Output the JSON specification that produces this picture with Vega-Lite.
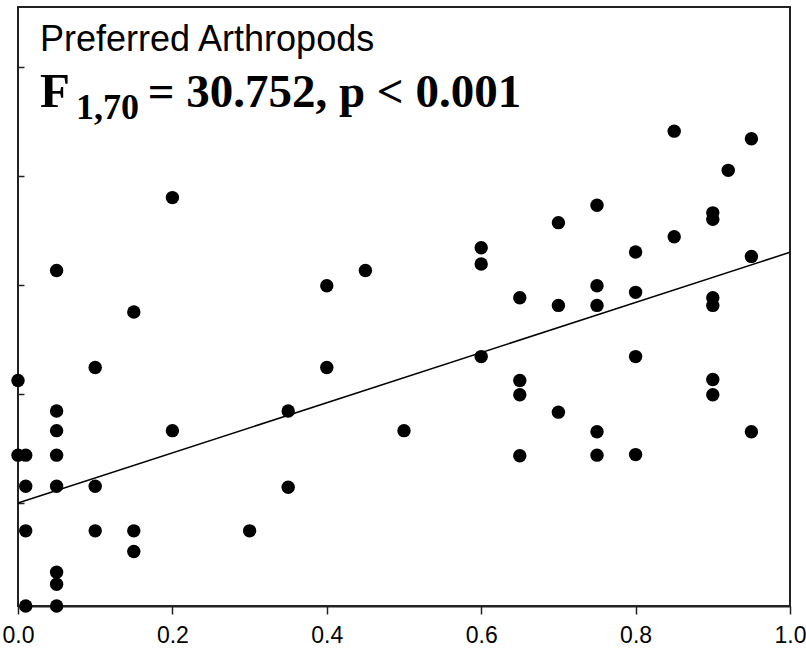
{
  "$schema": "https://vega.github.io/schema/vega-lite/v6.json",
  "autosize": {"type": "none"},
  "width": 772,
  "height": 599,
  "padding": {"left": 18, "top": 7, "right": 16, "bottom": 55},
  "background": "white",
  "config": {"view": {"stroke": "#222", "strokeWidth": 2}},
  "datasets": {
    "pts": [
      {"p": 0, "a": 2.07}, {"p": 0, "a": 1.385},
      {"p": 0.01, "a": 1.385}, {"p": 0.01, "a": 1.1}, {"p": 0.01, "a": 0.69}, {"p": 0.01, "a": 0},
      {"p": 0.05, "a": 3.08}, {"p": 0.05, "a": 1.79}, {"p": 0.05, "a": 1.61}, {"p": 0.05, "a": 1.385}, {"p": 0.05, "a": 1.1}, {"p": 0.05, "a": 0.31}, {"p": 0.05, "a": 0.2}, {"p": 0.05, "a": 0},
      {"p": 0.1, "a": 2.19}, {"p": 0.1, "a": 1.1}, {"p": 0.1, "a": 0.69},
      {"p": 0.15, "a": 2.7}, {"p": 0.15, "a": 0.69}, {"p": 0.15, "a": 0.5},
      {"p": 0.2, "a": 3.75}, {"p": 0.2, "a": 1.61},
      {"p": 0.3, "a": 0.69},
      {"p": 0.35, "a": 1.79}, {"p": 0.35, "a": 1.09},
      {"p": 0.4, "a": 2.94}, {"p": 0.4, "a": 2.19},
      {"p": 0.45, "a": 3.08},
      {"p": 0.5, "a": 1.61},
      {"p": 0.6, "a": 3.29}, {"p": 0.6, "a": 3.14}, {"p": 0.6, "a": 2.29},
      {"p": 0.65, "a": 2.83}, {"p": 0.65, "a": 2.07}, {"p": 0.65, "a": 1.94}, {"p": 0.65, "a": 1.38},
      {"p": 0.7, "a": 3.52}, {"p": 0.7, "a": 2.76}, {"p": 0.7, "a": 1.78},
      {"p": 0.75, "a": 3.68}, {"p": 0.75, "a": 2.94}, {"p": 0.75, "a": 2.76}, {"p": 0.75, "a": 1.6}, {"p": 0.75, "a": 1.385},
      {"p": 0.8, "a": 3.25}, {"p": 0.8, "a": 2.88}, {"p": 0.8, "a": 2.29}, {"p": 0.8, "a": 1.39},
      {"p": 0.85, "a": 4.36}, {"p": 0.85, "a": 3.39},
      {"p": 0.9, "a": 3.61}, {"p": 0.9, "a": 3.55}, {"p": 0.9, "a": 2.83}, {"p": 0.9, "a": 2.76}, {"p": 0.9, "a": 2.08}, {"p": 0.9, "a": 1.94},
      {"p": 0.92, "a": 4.0},
      {"p": 0.95, "a": 4.29}, {"p": 0.95, "a": 3.21}, {"p": 0.95, "a": 1.6}
    ],
    "fit": [
      {"p": 0, "a": 0.945},
      {"p": 1, "a": 3.248}
    ],
    "one": [{}]
  },
  "layer": [
    {
      "data": {"name": "fit"},
      "mark": {"type": "line", "color": "black", "strokeWidth": 1.5},
      "encoding": {
        "x": {"field": "p", "type": "quantitative", "scale": {"domain": [0, 1], "nice": false, "zero": false},
          "axis": {"title": null, "values": [0, 0.2, 0.4, 0.6, 0.8, 1.0], "format": ".1f", "grid": false,
            "domainColor": "#222", "domainWidth": 2, "tickColor": "#222", "tickWidth": 1.5, "tickSize": 8,
            "labelFont": "Liberation Sans", "labelFontSize": 23, "labelColor": "black", "labelPadding": 10,
            "labelFlush": false, "labelOverlap": false}},
        "y": {"field": "a", "type": "quantitative", "scale": {"domain": [0, 5.5], "nice": false, "zero": false},
          "axis": {"title": null, "values": [1, 2, 3, 4, 5], "labels": false, "grid": false, "domain": false,
            "tickColor": "#222", "tickWidth": 1.5, "tickSize": 6, "translate": 6.5}}
      }
    },
    {
      "data": {"name": "pts"},
      "mark": {"type": "circle", "color": "black", "opacity": 1, "size": 180},
      "encoding": {
        "x": {"field": "p", "type": "quantitative"},
        "y": {"field": "a", "type": "quantitative"}
      }
    },
    {
      "data": {"name": "one"},
      "mark": {"type": "text", "text": "Preferred Arthropods", "font": "Liberation Sans", "fontSize": 36, "align": "left", "baseline": "alphabetic", "color": "black"},
      "encoding": {"x": {"datum": 0.0285}, "y": {"datum": 5.1}}
    },
    {
      "data": {"name": "one"},
      "mark": {"type": "text", "text": "F", "font": "Liberation Serif", "fontWeight": "bold", "fontSize": 49, "align": "left", "baseline": "alphabetic", "color": "black"},
      "encoding": {"x": {"datum": 0.0285}, "y": {"datum": 4.58}}
    },
    {
      "data": {"name": "one"},
      "mark": {"type": "text", "text": "1,70", "font": "Liberation Serif", "fontWeight": "bold", "fontSize": 36, "align": "left", "baseline": "alphabetic", "color": "black"},
      "encoding": {"x": {"datum": 0.075}, "y": {"datum": 4.47}}
    },
    {
      "data": {"name": "one"},
      "mark": {"type": "text", "text": "= 30.752, p < 0.001", "font": "Liberation Serif", "fontWeight": "bold", "fontSize": 47, "align": "left", "baseline": "alphabetic", "color": "black"},
      "encoding": {"x": {"datum": 0.168}, "y": {"datum": 4.58}}
    }
  ]
}
